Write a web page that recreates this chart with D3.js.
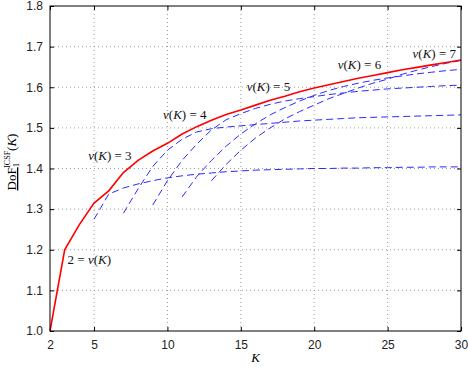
<!DOCTYPE html>
<html>
<head>
<meta charset="utf-8">
<script src="https://cdn.jsdelivr.net/npm/d3@7.9.0/dist/d3.min.js"></script>
<style>
  body { margin: 0; background: #fff; }
  svg { display: block; font-family: 'Liberation Serif', 'DejaVu Serif', serif; }
  .tick text { font-size: 12px; fill: #222; }
</style>
</head>
<body>
<div id="chart"></div>
<script>
// envelope (red) and fixed-nu curves (blue dashed)
const envK = d3.range(2, 31);
const envVals = [1.000, 1.200, 1.262, 1.315, 1.345, 1.390, 1.420, 1.443, 1.462, 1.485,
  1.503, 1.519, 1.533, 1.544, 1.556, 1.568, 1.578, 1.589, 1.598, 1.606,
  1.614, 1.622, 1.629, 1.636, 1.643, 1.649, 1.655, 1.661, 1.667];

const nu3 = [1.275, 1.337, 1.352, 1.362, 1.370, 1.377, 1.382, 1.386, 1.389, 1.392, 1.394,
  1.396, 1.397, 1.398, 1.399, 1.400, 1.400, 1.401, 1.401, 1.402, 1.402, 1.403, 1.403,
  1.404, 1.404, 1.404];
const nu4 = [1.290, 1.350, 1.405, 1.445, 1.472, 1.490, 1.498, 1.502, 1.505, 1.508, 1.511,
  1.514, 1.517, 1.519, 1.521, 1.523, 1.525, 1.526, 1.527, 1.528, 1.529, 1.530, 1.531, 1.532];
const nu5 = [1.310, 1.370, 1.420, 1.460, 1.495, 1.520, 1.535, 1.548, 1.558, 1.566, 1.572,
  1.577, 1.582, 1.586, 1.590, 1.593, 1.596, 1.598, 1.600, 1.602, 1.604, 1.605];
const nu6 = [1.330, 1.380, 1.420, 1.455, 1.485, 1.510, 1.532, 1.550, 1.566, 1.580, 1.592,
  1.602, 1.610, 1.617, 1.623, 1.628, 1.633, 1.637, 1.641, 1.644];
const nu7 = [1.370, 1.410, 1.445, 1.475, 1.500, 1.522, 1.540, 1.556, 1.572, 1.585, 1.598,
  1.610, 1.620, 1.632, 1.642, 1.651, 1.659, 1.666];
const nuStart = [5, 7, 9, 11, 13];

const xTicks = [2, 5, 10, 15, 20, 25, 30];
const yTicks = [1.0, 1.1, 1.2, 1.3, 1.4, 1.5, 1.6, 1.7, 1.8];

const labels = [
  { text: 'ν(K) = 3', K: 4.6, v: 1.421 },
  { text: '2 = ν(K)', K: 3.2, v: 1.165 },
  { text: 'ν(K) = 4', K: 9.7, v: 1.522 },
  { text: 'ν(K) = 5', K: 15.4, v: 1.591 },
  { text: 'ν(K) = 6', K: 21.6, v: 1.645 },
  { text: 'ν(K) = 7', K: 26.7, v: 1.672 },
];

const width = 468, height = 367;
const margin = { top: 6, right: 7, bottom: 36, left: 50 };

const svg = d3.select('#chart').append('svg')
  .attr('width', width).attr('height', height);

const x = d3.scaleLinear().domain([2, 30]).range([margin.left, width - margin.right]);
const y = d3.scaleLinear().domain([1.0, 1.8]).range([height - margin.bottom, margin.top]);

// grid
svg.append('g').selectAll('line').data(xTicks.slice(1, -1)).join('line')
  .attr('x1', d => x(d)).attr('x2', d => x(d))
  .attr('y1', y(1.0)).attr('y2', y(1.8))
  .attr('stroke', '#888').attr('stroke-width', 0.8).attr('stroke-dasharray', '1,3');
svg.append('g').selectAll('line').data(yTicks.slice(1, -1)).join('line')
  .attr('y1', d => y(d)).attr('y2', d => y(d))
  .attr('x1', x(2)).attr('x2', x(30))
  .attr('stroke', '#888').attr('stroke-width', 0.8).attr('stroke-dasharray', '1,3');

// axes, ticks inward
svg.append('g').attr('transform', `translate(0,${y(1.0)})`)
  .call(d3.axisBottom(x).tickValues(xTicks).tickSize(-4).tickPadding(9).tickFormat(d3.format('d')))
  .call(g => g.select('.domain').remove());
svg.append('g').attr('transform', `translate(0,${y(1.8)})`)
  .call(d3.axisTop(x).tickValues(xTicks).tickSize(-4).tickFormat(''))
  .call(g => g.select('.domain').remove());
svg.append('g').attr('transform', `translate(${x(2)},0)`)
  .call(d3.axisLeft(y).tickValues(yTicks).tickSize(-4).tickPadding(7).tickFormat(d3.format('.1f')))
  .call(g => g.select('.domain').remove());
svg.append('g').attr('transform', `translate(${x(30)},0)`)
  .call(d3.axisRight(y).tickValues(yTicks).tickSize(-4).tickFormat(''))
  .call(g => g.select('.domain').remove());

const line = d3.line().x(d => x(d[0])).y(d => y(d[1]));

// blue dashed curves
const curves = [nu3, nu4, nu5, nu6, nu7];
svg.append('g').selectAll('path').data(curves).join('path')
  .attr('d', (vals, i) => line(vals.map((v, j) => [nuStart[i] + j, v])))
  .attr('fill', 'none').attr('stroke', '#2a2aff').attr('stroke-width', 1)
  .attr('stroke-dasharray', '7,4');

// red envelope
svg.append('path')
  .attr('d', line(envK.map((k, i) => [k, envVals[i]])))
  .attr('fill', 'none').attr('stroke', '#ff0000').attr('stroke-width', 1.6);

// frame
svg.append('rect')
  .attr('x', x(2)).attr('y', y(1.8))
  .attr('width', x(30) - x(2)).attr('height', y(1.0) - y(1.8))
  .attr('fill', 'none').attr('stroke', '#000').attr('stroke-width', 1);

// annotations
svg.append('g').selectAll('text').data(labels).join('text')
  .attr('x', d => x(d.K)).attr('y', d => y(d.v))
  .attr('font-size', 13).attr('fill', '#111')
  .each(function (d) {
    const t = d3.select(this);
    d.text.split(/(ν|K)/).forEach(part => {
      if (!part) return;
      t.append('tspan').text(part)
        .attr('font-style', part === 'ν' || part === 'K' ? 'italic' : 'normal');
    });
  });

// x label
svg.append('text')
  .attr('x', (x(2) + x(30)) / 2).attr('y', 362)
  .attr('text-anchor', 'middle').attr('font-size', 13).attr('font-style', 'italic')
  .text('K');

// y label
const yl = svg.append('text')
  .attr('transform', 'translate(16,162) rotate(-90)')
  .attr('text-anchor', 'middle').attr('font-size', 13);
yl.append('tspan').text('DoF').attr('text-decoration', 'underline');
yl.append('tspan').text('1').attr('font-size', 9).attr('dy', 3);
yl.append('tspan').text('ICSF').attr('font-size', 8).attr('dx', -5).attr('dy', -9);
yl.append('tspan').text('(').attr('dy', 6);
yl.append('tspan').text('K').attr('font-style', 'italic');
yl.append('tspan').text(')');
</script>
</body>
</html>
